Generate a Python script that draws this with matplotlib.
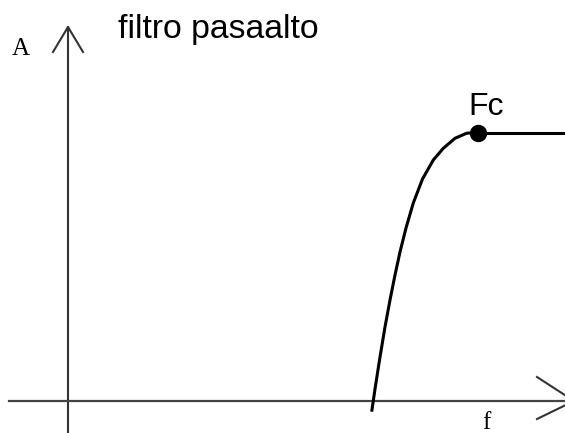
import matplotlib
matplotlib.use('Agg')
import matplotlib.pyplot as plt

# Curva del filtro pasaalto (coordenadas del dibujo)
freq = [371.7, 375.0, 380.0, 385.0, 390.0, 395.0, 400.0, 406.0, 413.3,
        422.5, 433.3, 443.3, 455.0, 466.7, 478.3]
amp = [411.7, 389.0, 357.0, 327.0, 300.0, 275.0, 252.0, 228.0, 203.0,
       179.0, 160.0, 148.3, 138.3, 133.2, 132.7]

# Frecuencia de corte y tramo plano
fc_x, fc_y = 478.3, 132.7
flat_end = 565

titulo = 'filtro pasaalto'
etiqueta_fc = 'Fc'
eje_y = 'A'
eje_x = 'f'

fig = plt.figure(figsize=(5.65, 4.33), dpi=100)
ax = fig.add_axes([0, 0, 1, 1])
ax.set_xlim(0, 565)
ax.set_ylim(433, 0)
ax.axis('off')

eje_color = '#333333'
# Eje vertical con flecha
ax.plot([68, 68], [27, 440], color=eje_color, lw=1.5, clip_on=False)
ax.plot([53, 68, 83], [52, 27, 52], color=eje_color, lw=1.5, clip_on=False)
# Eje horizontal con flecha
ax.plot([9, 580], [401, 401], color='#444444', lw=1.6, clip_on=False)
ax.plot([537, 574, 537], [377, 401, 419], color=eje_color, lw=1.5, clip_on=False)

# Curva
ax.plot(freq, amp, color='black', lw=2.2, solid_capstyle='butt', solid_joinstyle='round')
ax.plot([fc_x, flat_end + 5], [fc_y, fc_y], color='black', lw=2.2, clip_on=False)
ax.plot(fc_x, fc_y, 'o', color='black', markersize=11.5)

# Textos
ax.text(118, 38, titulo, fontsize=24.3, family='Liberation Sans', ha='left', va='baseline')
ax.text(486, 115, etiqueta_fc, fontsize=23, family='Liberation Sans', ha='center', va='baseline')
ax.text(12, 55, eje_y, fontsize=18, family='Liberation Serif', ha='left', va='baseline')
ax.text(482, 429, eje_x, fontsize=18, family='Liberation Serif', ha='left', va='baseline')

plt.savefig('out.png', dpi=100)
